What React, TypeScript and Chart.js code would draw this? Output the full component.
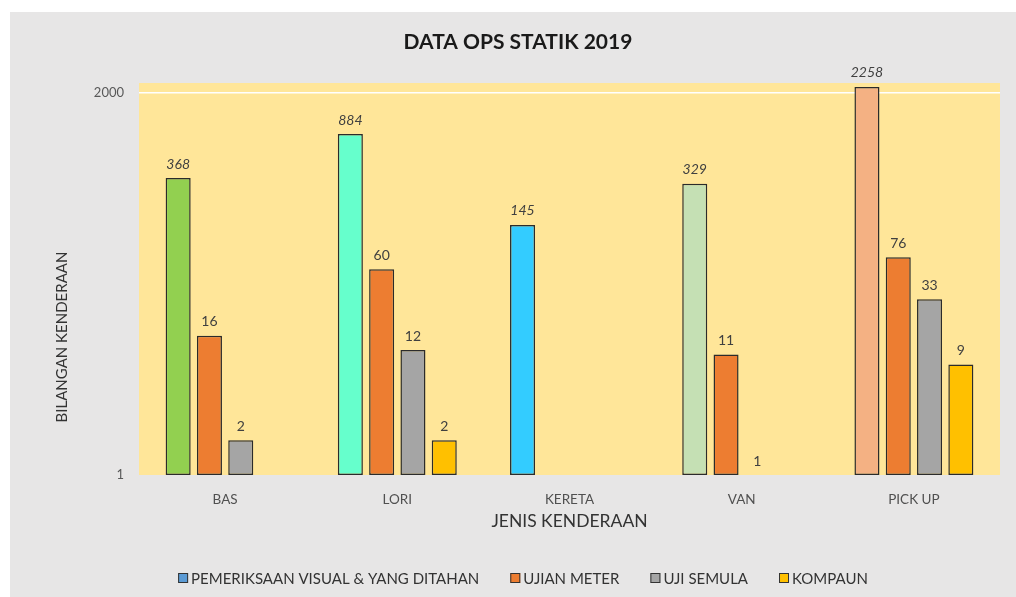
import React, { useEffect, useRef } from "react";
import { Chart, registerables } from "chart.js";

Chart.register(...registerables);

const chartTitle = "DATA OPS STATIK 2019";
const xTitle = "JENIS KENDERAAN";
const yTitle = "BILANGAN KENDERAAN";
const categories = ["BAS", "LORI", "KERETA", "VAN", "PICK UP"];
const seriesNames = ["PEMERIKSAAN VISUAL & YANG DITAHAN", "UJIAN METER", "UJI SEMULA", "KOMPAUN"];
const pemeriksaan = [368, 884, 145, 329, 2258];
const ujianMeter = [16, 60, null, 11, 76];
const ujiSemula = [2, 12, null, 1, 33];
const kompaun = [null, 2, null, null, 9];
const yTicks = [1, 2000];
const pemeriksaanColors = ["#92D050", "#66FFCC", "#33CCFF", "#C5E0B4", "#F4B183"];
const seriesColors = ["#5B9BD5", "#ED7D31", "#A5A5A5", "#FFC000"];

const FONT = "Lato, 'Open Sans', sans-serif";
const BG = "#E7E6E6";
const PLOT_BG = "#FFE699";

const customPlugin = {
  id: "custom",
  beforeDraw(chart: any) {
    const { ctx, chartArea } = chart;
    ctx.save();
    ctx.fillStyle = PLOT_BG;
    ctx.fillRect(chartArea.left, chartArea.top, chartArea.right - chartArea.left, chartArea.bottom - chartArea.top);
    ctx.restore();
  },
  afterDatasetsDraw(chart: any) {
    const { ctx } = chart;
    ctx.save();
    ctx.textAlign = "center";
    ctx.textBaseline = "bottom";
    ctx.fillStyle = "#404040";
    chart.data.datasets.forEach((ds: any, di: number) => {
      const meta = chart.getDatasetMeta(di);
      ctx.font = (di === 0 ? "italic " : "") + "14px " + FONT;
      meta.data.forEach((el: any, i: number) => {
        const v = ds.data[i];
        if (v === null || v === undefined) return;
        ctx.fillText(String(v), el.x, el.y - 7);
      });
    });
    ctx.restore();
  },
  afterDraw(chart: any) {
    const { ctx, chartArea } = chart;
    ctx.save();
    // title
    ctx.fillStyle = "#1a1a1a";
    ctx.font = "bold 21px " + FONT;
    ctx.textAlign = "center";
    ctx.textBaseline = "middle";
    ctx.fillText(chartTitle, 508, 30);
    // x title
    ctx.fillStyle = "#333333";
    ctx.font = "17.5px " + FONT;
    ctx.fillText(xTitle, (chartArea.left + chartArea.right) / 2, 509);
    // y title
    ctx.save();
    ctx.translate(52, 325);
    ctx.rotate(-Math.PI / 2);
    ctx.font = "15px " + FONT;
    ctx.fillText(yTitle, 0, 0);
    ctx.restore();
    // legend
    ctx.font = "15px " + FONT;
    const box = 10;
    const gap = 3;
    const spacing = 31;
    const widths = seriesNames.map((n) => ctx.measureText(n).width);
    const total = widths.reduce((a, b) => a + b, 0) + seriesNames.length * (box + gap) + spacing * (seriesNames.length - 1);
    let x = 513 - total / 2;
    const y = 566;
    ctx.textAlign = "left";
    ctx.textBaseline = "middle";
    seriesNames.forEach((n, i) => {
      ctx.fillStyle = seriesColors[i];
      ctx.fillRect(x, y - box / 2, box, box);
      ctx.strokeStyle = "#333333";
      ctx.lineWidth = 1;
      ctx.strokeRect(x + 0.5, y - box / 2 + 0.5, box - 1, box - 1);
      ctx.fillStyle = "#333333";
      ctx.fillText(n, x + box + gap, y + 1);
      x += box + gap + widths[i] + spacing;
    });
    ctx.restore();
  },
};

export default function App() {
  const ref = useRef<HTMLCanvasElement | null>(null);
  useEffect(() => {
    if (!ref.current) return;
    const mk = (label: string, data: any[], bg: any) => ({
      label,
      data,
      backgroundColor: bg,
      borderColor: "#2b2b2b",
      borderWidth: 1.5,
      borderSkipped: false,
      categoryPercentage: 0.727,
      barPercentage: 0.8,
    });
    const chart = new Chart(ref.current, {
      type: "bar",
      data: {
        labels: categories,
        datasets: [
          mk(seriesNames[0], pemeriksaan, pemeriksaanColors),
          mk(seriesNames[1], ujianMeter, seriesColors[1]),
          mk(seriesNames[2], ujiSemula, seriesColors[2]),
          mk(seriesNames[3], kompaun, seriesColors[3]),
        ],
      },
      options: {
        responsive: false,
        animation: false,
        layout: { padding: { top: 71, bottom: 72, left: 0, right: 16 } },
        plugins: {
          legend: { display: false },
          title: { display: false },
          tooltip: { enabled: false },
        },
        scales: {
          x: {
            grid: { display: false },
            border: { display: false },
            ticks: { color: "#505050", font: { family: FONT, size: 13.5 }, padding: 9 },
            afterFit(scale: any) {
              scale.height = 50;
            },
          },
          y: {
            type: "logarithmic",
            min: 1,
            max: 2440,
            border: { display: false },
            grid: {
              drawTicks: false,
              color: (c: any) => (c.tick && c.tick.value === 2000 ? "#FFFFFF" : "rgba(0,0,0,0)"),
              lineWidth: 1.5,
            },
            ticks: {
              color: "#595959",
              font: { family: FONT, size: 13 },
              padding: 15,
              callback: (v: any) => String(v),
            },
            afterBuildTicks(scale: any) {
              scale.ticks = yTicks.map((v) => ({ value: v }));
            },
            afterFit(scale: any) {
              scale.width = 129;
            },
          },
        },
      },
      plugins: [customPlugin],
    } as any);
    return () => chart.destroy();
  }, []);
  return (
    <div style={{ position: "absolute", left: 10, top: 12, width: 1006, height: 585, background: BG }}>
      <canvas ref={ref} width={1006} height={585} style={{ width: 1006, height: 585, display: "block" }} />
    </div>
  );
}
